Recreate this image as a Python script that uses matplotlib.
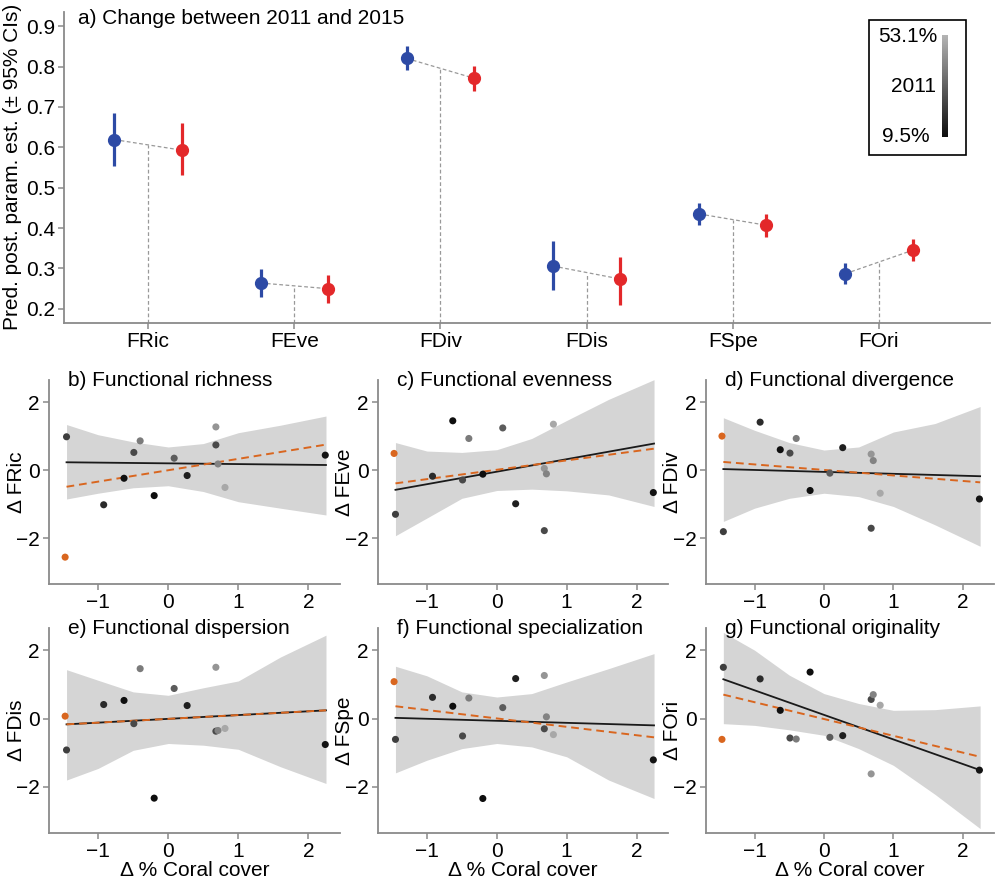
import matplotlib

matplotlib.use("Agg")
import matplotlib.pyplot as plt
import numpy as np
from matplotlib.colors import LinearSegmentedColormap
from matplotlib.patches import Rectangle

plt.rcParams["font.family"] = ["Liberation Sans", "DejaVu Sans"]

W, H = 1000, 883

# ---- panel a: posterior estimates (2011 vs 2015) ----
METRICS = ["FRic", "FEve", "FDiv", "FDis", "FSpe", "FOri"]
EST_2011 = [0.619, 0.264, 0.820, 0.306, 0.435, 0.287]
LO_2011 = [0.553, 0.230, 0.791, 0.247, 0.407, 0.261]
HI_2011 = [0.685, 0.298, 0.850, 0.368, 0.462, 0.313]
EST_2015 = [0.593, 0.250, 0.771, 0.274, 0.407, 0.345]
LO_2015 = [0.531, 0.214, 0.740, 0.209, 0.378, 0.318]
HI_2015 = [0.659, 0.283, 0.801, 0.328, 0.435, 0.372]

# ---- panels b-g: site-level change vs change in coral cover ----
SITE_X = [-1.47, -1.45, -0.92, -0.63, -0.49, -0.40, -0.20, 0.085, 0.27, 0.68, 0.68, 0.71, 0.81, 2.24]
COVER_2011 = [20, 22, 17, 10, 25, 38, 9.5, 30, 14, 45, 25, 40, 50, 11]
OUTLIER_SITE = 0  # drawn in orange

D_FRIC = [-2.56, 0.98, -1.02, -0.24, 0.52, 0.86, -0.75, 0.35, -0.16, 1.27, 0.74, 0.18, -0.51, 0.44]
D_FEVE = [0.49, -1.30, -0.18, 1.45, -0.29, 0.93, -0.12, 1.24, -0.99, 0.05, -1.78, -0.11, 1.35, -0.66]
D_FDIV = [1.00, -1.81, 1.41, 0.60, 0.50, 0.93, -0.60, -0.09, 0.66, 0.47, -1.71, 0.28, -0.68, -0.85]
D_FDIS = [0.07, -0.92, 0.41, 0.53, -0.15, 1.46, -2.33, 0.88, 0.38, 1.50, -0.37, -0.35, -0.29, -0.76]
D_FSPE = [1.08, -0.61, 0.62, 0.36, -0.51, 0.60, -2.34, 0.32, 1.17, 1.26, -0.30, 0.05, -0.47, -1.21]
D_FORI = [-0.61, 1.50, 1.16, 0.24, -0.57, -0.60, 1.36, -0.55, -0.50, -1.62, 0.56, 0.70, 0.39, -1.51]

# fitted lines (endpoints): all sites (black) and orange dashed
LINE_X = [-1.45, 2.25]
FIT_FRIC, ALT_FRIC = [0.23, 0.15], [-0.49, 0.75]
FIT_FEVE, ALT_FEVE = [-0.58, 0.78], [-0.39, 0.63]
FIT_FDIV, ALT_FDIV = [0.03, -0.18], [0.24, -0.36]
FIT_FDIS, ALT_FDIS = [-0.17, 0.24], [-0.17, 0.24]
FIT_FSPE, ALT_FSPE = [0.02, -0.20], [0.36, -0.55]
FIT_FORI, ALT_FORI = [1.15, -1.51], [0.70, -1.12]

# 95% credible ribbons, read at these x knots
RIBBON_X = [-1.45, -1.0, -0.5, 0.0, 0.5, 1.0, 1.6, 2.25]
UP_FRIC = [1.34, 1.04, 0.83, 0.68, 0.78, 1.10, 1.32, 1.59]
LO_FRIC = [-0.85, -0.68, -0.52, -0.46, -0.63, -0.93, -1.12, -1.32]
UP_FEVE = [0.81, 0.56, 0.52, 0.60, 0.93, 1.46, 2.08, 2.66]
LO_FEVE = [-1.93, -1.41, -0.83, -0.60, -0.56, -0.61, -0.73, -1.07]
UP_FDIV = [1.54, 1.17, 0.81, 0.59, 0.68, 1.12, 1.37, 1.87]
LO_FDIV = [-1.51, -1.12, -0.83, -0.68, -0.78, -1.07, -1.61, -2.24]
UP_FDIS = [1.43, 1.12, 0.78, 0.68, 0.90, 1.10, 1.80, 2.44]
LO_FDIS = [-1.80, -1.46, -0.93, -0.73, -0.78, -0.90, -1.41, -1.90]
UP_FSPE = [1.53, 1.25, 0.78, 0.63, 0.73, 1.07, 1.46, 1.90]
LO_FSPE = [-1.59, -1.22, -0.88, -0.73, -0.83, -1.12, -1.80, -2.34]
UP_FORI = [2.52, 2.00, 1.27, 0.73, 0.44, 0.24, 0.26, 0.37]
LO_FORI = [-0.15, -0.20, -0.33, -0.49, -0.88, -1.37, -2.22, -3.22]

TITLES = ["b) Functional richness", "c) Functional evenness", "d) Functional divergence",
          "e) Functional dispersion", "f) Functional specialization", "g) Functional originality"]

BLUE = "#2d4aa5"
RED = "#e3282a"
ORANGE = "#d9661f"
RIBBON = "#d5d5d5"
SPINE = "#8a8a8a"
FS = 15

gray_cmap = LinearSegmentedColormap.from_list("cover", ["#0e0e0e", "#b4b4b4"])
COVER_MIN, COVER_MAX = 9.5, 53.1


def px_rect(l, t, r, b):
    return [l / W, 1 - b / H, (r - l) / W, (b - t) / H]


def style_axes(ax):
    for side in ("top", "right"):
        ax.spines[side].set_visible(False)
    for side in ("left", "bottom"):
        ax.spines[side].set_color(SPINE)
        ax.spines[side].set_linewidth(1.3)
    ax.tick_params(colors=SPINE, labelcolor="black", labelsize=FS, length=4, width=1.1, pad=2.5)


fig = plt.figure(figsize=(W / 100, H / 100), dpi=100)

# ---------------- panel a ----------------
ax = fig.add_axes(px_rect(64, 12, 990, 323))
style_axes(ax)
pos = np.arange(1, len(METRICS) + 1)
off = 0.23
for i, p in enumerate(pos):
    mid = (EST_2011[i] + EST_2015[i]) / 2
    ax.plot([p - off, p + off], [EST_2011[i], EST_2015[i]], color="#999999", lw=0.9, ls=(0, (3, 2)), zorder=1)
    ax.plot([p, p], [0.165, mid], color="#999999", lw=0.9, ls=(0, (3, 2)), zorder=1)
ax.errorbar(pos - off, EST_2011, yerr=[np.subtract(EST_2011, LO_2011), np.subtract(HI_2011, EST_2011)],
            fmt="o", color=BLUE, ms=8.5, elinewidth=2.3, capsize=0, zorder=3)
ax.errorbar(pos + off, EST_2015, yerr=[np.subtract(EST_2015, LO_2015), np.subtract(HI_2015, EST_2015)],
            fmt="o", color=RED, ms=8.5, elinewidth=2.3, capsize=0, zorder=3)
ax.set_xlim(0.425, 6.76)
ax.set_ylim(0.165, 0.935)
ax.set_xticks(pos)
ax.set_xticklabels(METRICS, fontsize=FS)
yt = np.arange(0.2, 0.91, 0.1)
ax.set_yticks(yt)
ax.set_yticklabels([f"{v:.1f}" for v in yt], fontsize=FS)
fig.text(78 / W, 1 - 19 / H, "a) Change between 2011 and 2015", fontsize=15, ha="left", va="center")
fig.text(12.5 / W, 1 - 167 / H, "Pred. post. param. est. (\u00b1 95% CIs)", rotation=90,
         fontsize=15, ha="center", va="center")

# colour key for 2011 coral cover
fig.patches.append(Rectangle((869 / W, 1 - 155 / H), 97 / W, 135 / H, transform=fig.transFigure,
                             fill=False, edgecolor="black", lw=1.2))
cax = fig.add_axes(px_rect(942, 35, 948, 137))
cax.imshow(np.linspace(1, 0, 100).reshape(-1, 1), cmap=gray_cmap, aspect="auto")
cax.set_axis_off()
fig.text(937 / W, 1 - 36 / H, "53.1%", fontsize=15, ha="right", va="center")
fig.text(936 / W, 1 - 86 / H, "2011", fontsize=15, ha="right", va="center")
fig.text(930 / W, 1 - 137 / H, "9.5%", fontsize=15, ha="right", va="center")

# ---------------- panels b-g ----------------
panel_y = [D_FRIC, D_FEVE, D_FDIV, D_FDIS, D_FSPE, D_FORI]
panel_fit = [FIT_FRIC, FIT_FEVE, FIT_FDIV, FIT_FDIS, FIT_FSPE, FIT_FORI]
panel_alt = [ALT_FRIC, ALT_FEVE, ALT_FDIV, ALT_FDIS, ALT_FSPE, ALT_FORI]
panel_up = [UP_FRIC, UP_FEVE, UP_FDIV, UP_FDIS, UP_FSPE, UP_FORI]
panel_lo = [LO_FRIC, LO_FEVE, LO_FDIV, LO_FDIS, LO_FSPE, LO_FORI]

lefts = [49, 378, 706]
rights = [340, 668, 994]
rows = [(380, 584), (628, 833)]

site_cols = [gray_cmap((c - COVER_MIN) / (COVER_MAX - COVER_MIN)) for c in COVER_2011]
site_cols[OUTLIER_SITE] = ORANGE

for k in range(6):
    r, c = divmod(k, 3)
    top, bot = rows[r]
    ax = fig.add_axes(px_rect(lefts[c], top, rights[c], bot))
    style_axes(ax)
    ax.fill_between(RIBBON_X, panel_lo[k], panel_up[k], color=RIBBON, lw=0, zorder=1)
    ax.plot(LINE_X, panel_fit[k], color="#1a1a1a", lw=1.3, zorder=2)
    ax.plot(LINE_X, panel_alt[k], color=ORANGE, lw=1.4, ls=(0, (4, 2.5)), zorder=3)
    ax.scatter(SITE_X, panel_y[k], s=26, c=site_cols, linewidths=0, zorder=4)
    ax.set_xlim(-1.7, 2.45)
    ax.set_ylim(-3.35, 2.65)
    ax.set_xticks([-1, 0, 1, 2])
    ax.set_yticks([-2, 0, 2])
    ax.set_xticklabels(["\u22121", "0", "1", "2"], fontsize=FS)
    ax.set_yticklabels(["\u22122", "0", "2"], fontsize=FS)
    ax.text(0.065, 1.0, TITLES[k], transform=ax.transAxes, fontsize=15, ha="left", va="center")
    fig.text((lefts[c] - 33) / W, 1 - (top + bot) / 2 / H, "\u0394 " + METRICS[k], rotation=90,
             fontsize=15, ha="center", va="center")
    if r == 1:
        fig.text((lefts[c] + rights[c]) / 2 / W, 1 - 870 / H, "\u0394 % Coral cover",
                 fontsize=15, ha="center", va="center")

fig.savefig("out.png", dpi=100)
